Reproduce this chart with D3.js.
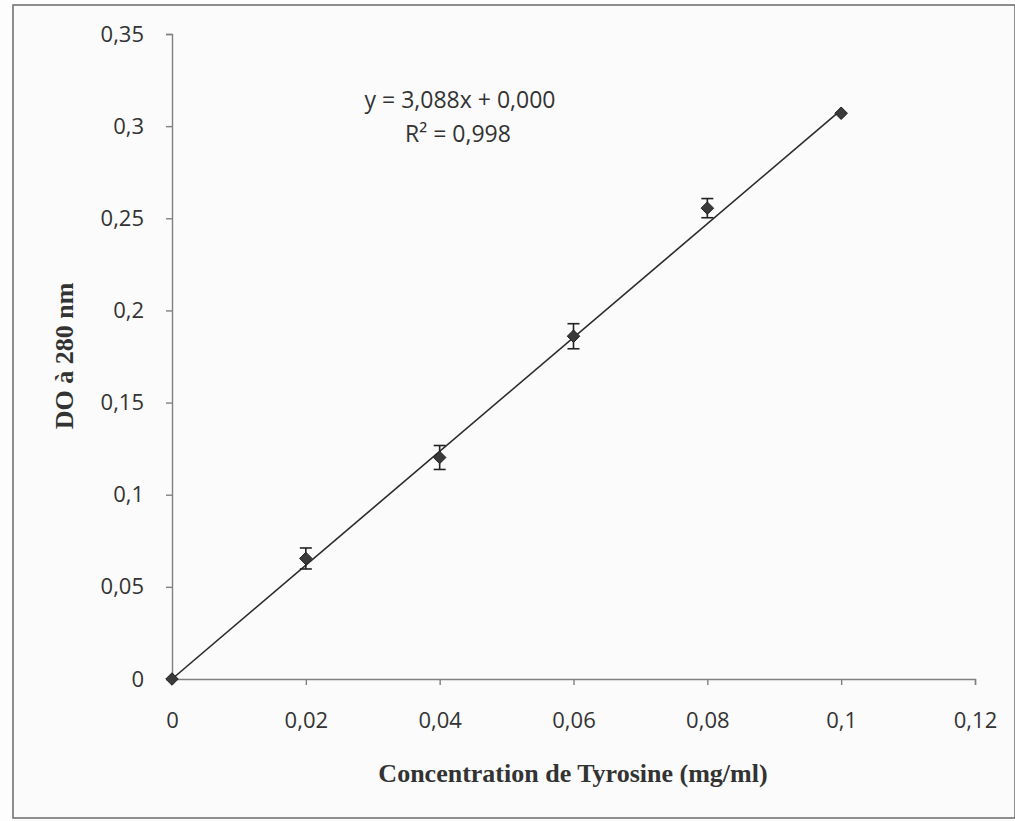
<!DOCTYPE html>
<html>
<head>
<meta charset="utf-8">
<script src="https://cdn.jsdelivr.net/npm/d3@7"></script>
<style>
  body { margin: 0; background: #fdfdfd; }
  svg { display: block; }
</style>
</head>
<body>
<svg id="chart" width="1015" height="821"></svg>
<script>
// data
var concentrations = [0, 0.02, 0.04, 0.06, 0.08, 0.1];
var absorbances = [0, 0.0654, 0.1202, 0.186, 0.2555, 0.307];
var errors = [0, 0.0057, 0.0065, 0.0068, 0.0052, 0];
var xTicks = [0, 0.02, 0.04, 0.06, 0.08, 0.1, 0.12];
var yTicks = [0, 0.05, 0.1, 0.15, 0.2, 0.25, 0.3, 0.35];
var slope = 3.088, intercept = 0;

var svg = d3.select("svg#chart");
var width = +svg.attr("width"),
    height = +svg.attr("height");

var fmt = function(v) { return String(+v.toFixed(3)).replace(".", ","); };

// frame
svg.append("rect")
   .attr("x", 13).attr("y", 5)
   .attr("width", width - 13).attr("height", 813)
   .attr("fill", "#fbfbfb")
   .attr("stroke", "#6a6a6a")
   .attr("stroke-width", 1.5);

var x = d3.scaleLinear().domain([0, 0.12]).range([172, 975]);
var y = d3.scaleLinear().domain([0, 0.35]).range([679, 34]);

// y axis
var yAxis = svg.append("g")
   .attr("transform", "translate(" + x(0) + ",0)")
   .call(d3.axisLeft(y).tickValues(yTicks).tickFormat(fmt).tickSize(6).tickPadding(22));

// x axis
var xAxis = svg.append("g")
   .attr("transform", "translate(0," + y(0) + ")")
   .call(d3.axisBottom(x).tickValues(xTicks).tickFormat(fmt).tickSize(6).tickPadding(27));

[yAxis, xAxis].forEach(function(g) {
  g.select(".domain").attr("stroke", "#808080").attr("stroke-width", 1.4);
  g.selectAll(".tick line").attr("stroke", "#808080").attr("stroke-width", 1.4);
  g.selectAll(".tick text")
   .attr("fill", "#333")
   .style("font-family", "'Open Sans', sans-serif")
   .style("font-size", "22px");
});
xAxis.selectAll(".tick").filter(function(d) { return d === 0; }).select("line").remove();

// trend line
svg.append("line")
   .attr("x1", x(0)).attr("y1", y(intercept))
   .attr("x2", x(0.1)).attr("y2", y(slope * 0.1 + intercept))
   .attr("stroke", "#2a2a2a")
   .attr("stroke-width", 1.6);

// error bars
var pts = concentrations.map(function(c, i) { return {x: c, y: absorbances[i], e: errors[i]}; });
var eb = svg.selectAll("g.err")
   .data(pts.filter(function(d) { return d.e > 0; }))
   .enter().append("g").attr("class", "err")
   .attr("stroke", "#222").attr("stroke-width", 1.6);
eb.append("line")
   .attr("x1", function(d) { return x(d.x); }).attr("x2", function(d) { return x(d.x); })
   .attr("y1", function(d) { return y(d.y + d.e); }).attr("y2", function(d) { return y(d.y - d.e); });
eb.append("line")
   .attr("x1", function(d) { return x(d.x) - 6; }).attr("x2", function(d) { return x(d.x) + 6; })
   .attr("y1", function(d) { return y(d.y + d.e); }).attr("y2", function(d) { return y(d.y + d.e); });
eb.append("line")
   .attr("x1", function(d) { return x(d.x) - 6; }).attr("x2", function(d) { return x(d.x) + 6; })
   .attr("y1", function(d) { return y(d.y - d.e); }).attr("y2", function(d) { return y(d.y - d.e); });

// markers
svg.selectAll("path.pt")
   .data(pts)
   .enter().append("path")
   .attr("class", "pt")
   .attr("d", d3.symbol().type(d3.symbolDiamond2).size(100))
   .attr("transform", function(d) { return "translate(" + x(d.x) + "," + y(d.y) + ")"; })
   .attr("fill", "#3a3a3a")
   .attr("stroke", "#222")
   .attr("stroke-width", 1);

// equation
var eq = svg.append("text")
   .attr("text-anchor", "middle")
   .attr("fill", "#333")
   .style("font-family", "'Open Sans', sans-serif")
   .style("font-size", "23px");
eq.append("tspan").attr("x", 460).attr("y", 108)
  .text("y = " + String(slope).replace(".", ",") + "x + " + intercept.toFixed(3).replace(".", ","));
eq.append("tspan").attr("x", 458).attr("y", 142).text("R² = 0,998");

// axis titles
svg.append("text")
   .attr("x", 573).attr("y", 782)
   .attr("text-anchor", "middle")
   .attr("fill", "#333")
   .style("font-family", "'Liberation Serif', serif")
   .style("font-weight", "bold")
   .style("font-size", "26px")
   .text("Concentration de Tyrosine (mg/ml)");

svg.append("text")
   .attr("transform", "translate(73,356) rotate(-90)")
   .attr("text-anchor", "middle")
   .attr("fill", "#333")
   .style("font-family", "'Liberation Serif', serif")
   .style("font-weight", "bold")
   .style("font-size", "26px")
   .text("DO à 280 nm");
</script>
</body>
</html>
